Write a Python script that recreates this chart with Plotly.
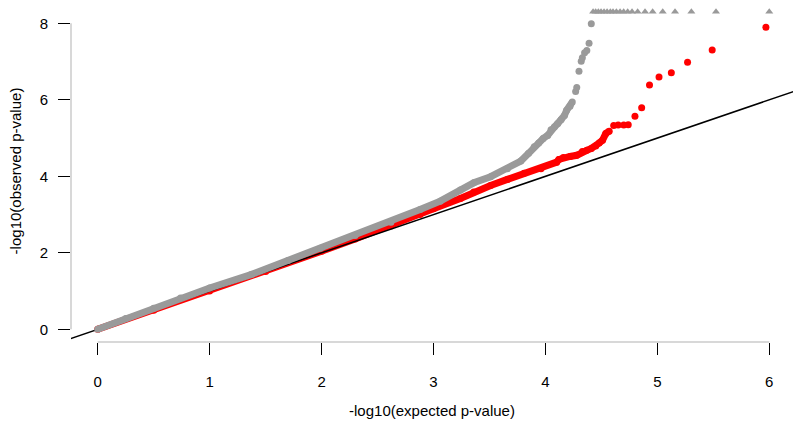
import plotly.graph_objects as go

# grey series: dense body (expected, observed)
grey_exp = [0.0, 0.25, 0.5, 0.74, 1.0, 1.37, 1.7, 1.99, 2.3, 2.62, 2.88, 3.06, 3.24, 3.36,
            3.51, 3.66, 3.78, 3.85, 3.9, 3.94, 3.98, 4.02, 4.05, 4.08, 4.11, 4.14, 4.17,
            4.19, 4.22, 4.24]
grey_obs = [0.0, 0.28, 0.55, 0.82, 1.08, 1.43, 1.8, 2.12, 2.45, 2.8, 3.13, 3.35, 3.64, 3.83,
            3.99, 4.2, 4.4, 4.6, 4.77, 4.87, 4.99, 5.07, 5.22, 5.29, 5.38, 5.48, 5.59,
            5.73, 5.83, 5.94]
# grey series: sparse tail
grey_tail_exp = [4.27, 4.28, 4.30, 4.32, 4.33, 4.35, 4.37, 4.39, 4.41]
grey_tail_obs = [6.22, 6.32, 6.75, 7.01, 7.10, 7.23, 7.29, 7.48, 7.99]
# grey series: values beyond the cap, drawn as triangles
capped_exp = [4.426, 4.449, 4.473, 4.497, 4.524, 4.551, 4.58, 4.604, 4.634, 4.667, 4.699,
              4.735, 4.774, 4.824, 4.89, 4.958, 5.048, 5.158, 5.304, 5.524, 6.0]
capped_obs = [8.3] * len(capped_exp)

# red series: dense body
red_exp = [0.0, 0.5, 1.0, 1.5, 2.0, 2.3, 2.62, 2.88, 3.0, 3.24, 3.36, 3.51, 3.66, 3.81,
           3.96, 4.1, 4.12, 4.16, 4.22, 4.28, 4.33, 4.37, 4.41, 4.45, 4.48, 4.51, 4.54, 4.57]
red_obs = [0.0, 0.5, 1.0, 1.51, 2.04, 2.36, 2.7, 3.0, 3.15, 3.42, 3.59, 3.76, 3.92, 4.08,
           4.2, 4.37, 4.44, 4.49, 4.52, 4.55, 4.65, 4.68, 4.73, 4.79, 4.87, 4.94, 5.12, 5.18]
# red series: sparse tail
red_tail_exp = [4.61, 4.65, 4.70, 4.74, 4.80, 4.86, 4.93, 5.015, 5.125, 5.27, 5.49, 5.97]
red_tail_obs = [5.33, 5.34, 5.34, 5.35, 5.57, 5.79, 6.39, 6.60, 6.71, 6.98, 7.30, 7.90]

x_ticks = [0, 1, 2, 3, 4, 5, 6]
y_ticks = [0, 2, 4, 6, 8]

GREY = '#9a9a9a'
RED = '#ff0000'
FONT = 'Liberation Sans, Arial, sans-serif'

fig = go.Figure()

fig.add_trace(go.Scatter(x=red_exp, y=red_obs, mode='lines+markers',
                         line=dict(color=RED, width=7), marker=dict(color=RED, size=7),
                         showlegend=False))
fig.add_trace(go.Scatter(x=red_tail_exp, y=red_tail_obs, mode='markers',
                         marker=dict(color=RED, size=7), showlegend=False))

# expected = observed reference line
fig.add_trace(go.Scatter(x=[-1, 7], y=[-1, 7], mode='lines',
                         line=dict(color='black', width=1.5), showlegend=False))

fig.add_trace(go.Scatter(x=grey_exp, y=grey_obs, mode='lines+markers',
                         line=dict(color=GREY, width=7), marker=dict(color=GREY, size=7),
                         showlegend=False))
fig.add_trace(go.Scatter(x=grey_tail_exp, y=grey_tail_obs, mode='markers',
                         marker=dict(color=GREY, size=7), showlegend=False))
fig.add_trace(go.Scatter(x=capped_exp, y=capped_obs, mode='markers',
                         marker=dict(color=GREY, size=7, symbol='triangle-up'),
                         showlegend=False))

# R-style axis lines that only span first to last tick
fig.add_shape(type='line', xref='x', yref='paper', x0=x_ticks[0], x1=x_ticks[-1], y0=0, y1=0,
              line=dict(color='black', width=1))
fig.add_shape(type='line', xref='paper', yref='y', x0=0, x1=0, y0=y_ticks[0], y1=y_ticks[-1],
              line=dict(color='black', width=1))

fig.update_xaxes(range=[-0.2385, 6.212], tickvals=x_ticks, ticks='outside', ticklen=12,
                 tickcolor='black', tickwidth=1, showgrid=False, zeroline=False,
                 showline=False, ticklabelstandoff=14,
                 tickfont=dict(family=FONT, size=15, color='black'),
                 title=dict(text='-log10(expected p-value)', standoff=16,
                            font=dict(family=FONT, size=15, color='black')))
fig.update_yaxes(range=[-0.332, 8.61], tickvals=y_ticks, ticks='outside', ticklen=12,
                 tickcolor='black', tickwidth=1, showgrid=False, zeroline=False,
                 showline=False, ticklabelstandoff=7,
                 tickfont=dict(family=FONT, size=15, color='black'),
                 title=dict(text='-log10(observed p-value)', standoff=14,
                            font=dict(family=FONT, size=15, color='black')))

fig.update_layout(width=800, height=423, template='simple_white',
                  paper_bgcolor='white', plot_bgcolor='white',
                  margin=dict(l=71, r=7, t=0, b=81))

# drop the page's default body margin so the figure sits at the window corner
fig.write_html("out.html", config={'displayModeBar': False},
               post_script="document.body.style.margin='0';")
